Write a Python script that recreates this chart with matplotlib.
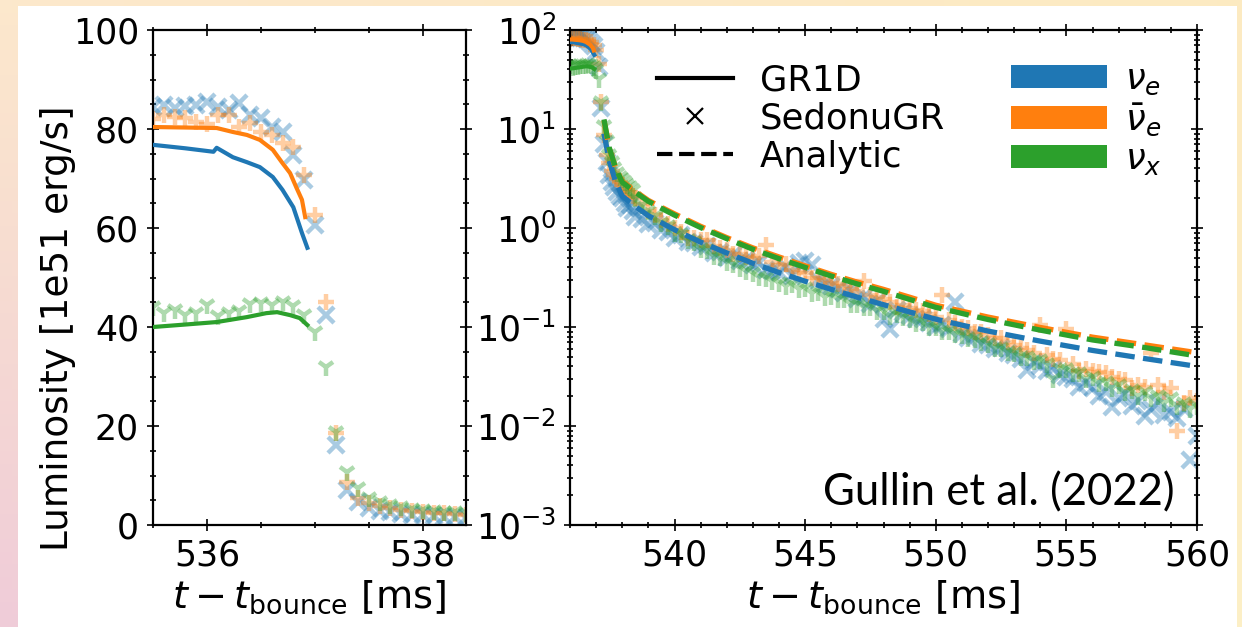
import numpy as np
import matplotlib
matplotlib.use("Agg")
import matplotlib.pyplot as plt
from matplotlib.lines import Line2D
from matplotlib.patches import Patch, Rectangle
from matplotlib.ticker import MultipleLocator, LogLocator, NullFormatter

# ---------------- data ----------------
# GR1D (solid lines), until black-hole formation
gr_t_e = [535.5, 535.8, 536.06, 536.09, 536.24, 536.37, 536.49, 536.61, 536.70, 536.80, 536.88, 536.93]
gr_L_e = [76.8, 76.1, 75.4, 76.2, 74.3, 73.3, 72.3, 70.3, 67.7, 64.2, 59.0, 56.0]
gr_t_a = [535.5, 535.8, 536.09, 536.24, 536.37, 536.49, 536.61, 536.70, 536.77, 536.83, 536.88, 536.91]
gr_L_a = [80.4, 80.3, 80.2, 79.4, 78.8, 77.8, 75.8, 73.1, 71.1, 68.1, 65.7, 62.2]
gr_t_x = [535.5, 535.8, 536.09, 536.37, 536.55, 536.65, 536.77, 536.86, 536.93]
gr_L_x = [40.0, 40.5, 41.0, 42.0, 42.8, 43.0, 42.4, 41.8, 40.4]

# SedonuGR (markers)
sed_t = [535.5, 535.6, 535.7, 535.8, 535.9, 536.0, 536.1, 536.2, 536.3, 536.4,
         536.5, 536.6, 536.7, 536.8, 536.9, 537.0, 537.1, 537.2, 537.3, 537.4,
         537.5, 537.6, 537.7, 537.8, 537.9, 538.0, 538.1, 538.2, 538.3, 538.4,
         538.5, 538.75,
         539.0, 539.25, 539.5, 539.75, 540.0, 540.25, 540.5, 540.75,
         541.0, 541.25, 541.5, 541.75, 542.0, 542.25, 542.5, 542.75,
         543.0, 543.25, 543.5, 543.75, 544.0, 544.25, 544.5, 544.75,
         545.0, 545.25, 545.5, 545.75, 546.0, 546.25, 546.5, 546.75,
         547.0, 547.25, 547.5, 547.75, 548.0, 548.25, 548.5, 548.75,
         549.0, 549.25, 549.5, 549.75, 550.0, 550.25, 550.5, 550.75,
         551.0, 551.25, 551.5, 551.75, 552.0, 552.25, 552.5, 552.75,
         553.0, 553.25, 553.5, 553.75, 554.0, 554.25, 554.5, 554.75,
         555.0, 555.25, 555.5, 555.75, 556.0, 556.25, 556.5, 556.75,
         557.0, 557.25, 557.5, 557.75, 558.0, 558.25, 558.5, 558.75,
         559.0, 559.25, 559.5, 559.75, 560.0]
sed_L_e = [84.5, 84.8, 84.2, 84.6, 84.8, 85.5, 84.4, 83.8, 85.2, 82.8,
           82.2, 80.4, 79.4, 74.7, 69.7, 60.6, 42.4, 16.2, 7.1, 4.6,
           3.4, 2.9, 2.6, 2.3, 2.1, 2.0, 1.8, 1.6, 1.7, 1.5,
           1.30, 1.22,
           1.10, 1.12, 0.95, 0.92, 0.80, 0.84, 0.72, 0.70,
           0.64, 0.66, 0.56, 0.57, 0.50, 0.53, 0.46, 0.47,
           0.42, 0.44, 0.38, 0.37, 0.36, 0.40, 0.33, 0.44,
           0.46, 0.42, 0.30, 0.27, 0.26, 0.24, 0.22, 0.23,
           0.19, 0.20, 0.17, 0.18, 0.12, 0.095, 0.15, 0.14,
           0.13, 0.12, 0.12, 0.11, 0.10, 0.105, 0.095, 0.18,
           0.085, 0.078, 0.080, 0.068, 0.066, 0.060, 0.062, 0.055,
           0.052, 0.047, 0.037, 0.044, 0.040, 0.036, 0.038, 0.033,
           0.031, 0.030, 0.025, 0.027, 0.024, 0.020, 0.022, 0.0155,
           0.019, 0.021, 0.016, 0.018, 0.0125, 0.015, 0.017, 0.013,
           0.014, 0.012, 0.015, 0.0045, 0.008]
sed_L_a = [82.0, 82.8, 82.4, 82.2, 81.4, 81.0, 82.8, 82.8, 80.4, 81.2,
           79.4, 78.8, 77.2, 76.4, 70.7, 62.6, 45.0, 18.6, 8.7, 5.5,
           4.5, 3.8, 3.4, 3.1, 2.9, 2.7, 2.5, 2.4, 2.3, 2.1,
           2.0, 1.75,
           1.5, 1.35, 1.2, 1.1, 1.0, 0.92, 0.80, 0.80,
           0.76, 0.75, 0.66, 0.63, 0.60, 0.55, 0.54, 0.51,
           0.50, 0.52, 0.68, 0.45, 0.42, 0.43, 0.38, 0.36,
           0.35, 0.31, 0.31, 0.30, 0.28, 0.27, 0.26, 0.24,
           0.23, 0.29, 0.21, 0.20, 0.19, 0.18, 0.16, 0.165,
           0.155, 0.15, 0.145, 0.135, 0.125, 0.21, 0.118, 0.11,
           0.10, 0.098, 0.088, 0.088, 0.083, 0.078, 0.078, 0.070,
           0.066, 0.062, 0.058, 0.055, 0.105, 0.052, 0.048, 0.046,
           0.095, 0.042, 0.036, 0.038, 0.036, 0.035, 0.034, 0.031,
           0.030, 0.029, 0.024, 0.026, 0.025, 0.055, 0.026, 0.022,
           0.024, 0.0088, 0.017, 0.019, 0.018]
sed_L_x = [44.0, 42.8, 43.5, 42.5, 42.8, 44.5, 42.3, 42.8, 43.2, 44.6,
           44.8, 44.5, 45.0, 44.2, 42.5, 39.0, 32.0, 18.8, 10.7, 7.5,
           5.5, 4.6, 4.0, 3.6, 3.3, 3.1, 2.9, 2.7, 2.6, 2.4,
           2.0, 1.7,
           1.5, 1.32, 1.12, 1.04, 0.90, 0.86, 0.75, 0.72,
           0.62, 0.60, 0.52, 0.51, 0.45, 0.43, 0.39, 0.37,
           0.35, 0.32, 0.31, 0.29, 0.28, 0.26, 0.27, 0.24,
           0.245, 0.22, 0.225, 0.20, 0.205, 0.19, 0.19, 0.17,
           0.17, 0.16, 0.16, 0.145, 0.145, 0.13, 0.135, 0.125,
           0.12, 0.11, 0.112, 0.10, 0.10, 0.092, 0.091, 0.084,
           0.083, 0.077, 0.076, 0.070, 0.068, 0.062, 0.062, 0.056,
           0.055, 0.050, 0.050, 0.045, 0.046, 0.042, 0.030, 0.038,
           0.038, 0.034, 0.034, 0.030, 0.031, 0.027, 0.028, 0.024,
           0.026, 0.022, 0.023, 0.020, 0.022, 0.019, 0.020, 0.017,
           0.019, 0.016, 0.017, 0.015, 0.016]

# Analytic (dashed)
an_t = [537.3, 537.5, 537.75, 538.0, 538.5, 539.0, 539.5, 540.0, 541.0, 542.0, 543.0, 544.0,
        545.0, 546.0, 547.0, 548.0, 549.0, 550.0, 552.0, 554.0, 556.0, 558.0, 560.0]
an_L_e = [9.0, 4.8, 2.9, 2.1, 1.65, 1.33, 1.13, 0.96, 0.72, 0.56, 0.44, 0.355,
          0.29, 0.24, 0.20, 0.168, 0.142, 0.120, 0.091, 0.072, 0.058, 0.048, 0.040]
an_L_a = [12.2, 6.4, 4.0, 2.95, 2.35, 1.9, 1.62, 1.39, 1.04, 0.80, 0.63, 0.51,
          0.415, 0.34, 0.284, 0.24, 0.20, 0.166, 0.126, 0.099, 0.079, 0.066, 0.055]
an_L_x = [12.5, 6.5, 4.0, 2.9, 2.3, 1.86, 1.58, 1.35, 1.01, 0.78, 0.61, 0.49,
          0.40, 0.327, 0.272, 0.229, 0.19, 0.158, 0.119, 0.093, 0.074, 0.062, 0.051]

species = [r"$\nu_e$", r"$\bar{\nu}_e$", r"$\nu_x$"]
colors = ["#1f77b4", "#ff7f0e", "#2ca02c"]
markers = ["x", "+", "1"]
msizes = [11, 11, 13]

# ---------------- figure ----------------
W, H = 1242, 627
fig = plt.figure(figsize=(W / 100, H / 100), dpi=100)

# slide background gradient + white card
bg = fig.add_axes([0, 0, 1, 1], zorder=-10)
tl = np.array([0.99, 0.91, 0.80]); bl = np.array([0.94, 0.80, 0.85])
tr = np.array([0.99, 0.92, 0.76]); br = np.array([0.99, 0.94, 0.78])
yy, xx = np.mgrid[0:1:50j, 0:1:100j]
img = ((1 - xx)[..., None] * ((1 - yy)[..., None] * tl + yy[..., None] * bl)
       + xx[..., None] * ((1 - yy)[..., None] * tr + yy[..., None] * br))
bg.imshow(img, extent=[0, 1, 0, 1], aspect="auto", origin="upper")
bg.add_patch(Rectangle((18 / W, 0), (1237 - 18) / W, (H - 6) / H, facecolor="white",
                       edgecolor="none", transform=bg.transAxes))
bg.set_xlim(0, 1); bg.set_ylim(0, 1)
bg.axis("off")

ax1 = fig.add_axes([153 / W, (H - 525) / H, 313 / W, 495 / H])
ax2 = fig.add_axes([570 / W, (H - 525) / H, 627 / W, 495 / H])

gr_t = [gr_t_e, gr_t_a, gr_t_x]
gr_L = [gr_L_e, gr_L_a, gr_L_x]
sed_L = [sed_L_e, sed_L_a, sed_L_x]
an_L = [an_L_e, an_L_a, an_L_x]

for ax in (ax1, ax2):
    for i in range(3):
        ax.plot(sed_t, sed_L[i], linestyle="none", marker=markers[i], ms=msizes[i], mew=3.2,
                color=colors[i], alpha=0.38, zorder=2)
    for i in range(3):
        ax.plot(gr_t[i], gr_L[i], color=colors[i], lw=3.0, zorder=3)

for i in range(3):
    ax2.plot(an_t, an_L[i], color=colors[i], lw=3.8, ls="--", zorder=4)

ax1.set_xlim(535.5, 538.4)
ax1.set_ylim(0, 100)
ax1.xaxis.set_major_locator(MultipleLocator(2))
ax1.xaxis.set_minor_locator(MultipleLocator(0.5))
ax1.yaxis.set_major_locator(MultipleLocator(20))
ax1.yaxis.set_minor_locator(MultipleLocator(5))

ax2.set_yscale("log")
ax2.set_xlim(536, 560)
ax2.set_ylim(1e-3, 1e2)
ax2.xaxis.set_major_locator(MultipleLocator(5))
ax2.xaxis.set_minor_locator(MultipleLocator(1))
ax2.yaxis.set_major_locator(LogLocator(base=10, numticks=10))
ax2.yaxis.set_minor_locator(LogLocator(base=10, subs=np.arange(2, 10), numticks=20))
ax2.yaxis.set_minor_formatter(NullFormatter())

for ax in (ax1, ax2):
    ax.tick_params(which="both", direction="inout", top=True, right=True,
                   labelsize=25, width=1.2, pad=6)
    ax.tick_params(which="major", length=8)
    ax.tick_params(which="minor", length=4)
    for s in ax.spines.values():
        s.set_linewidth(1.6)
    ax.set_xlabel(r"$t - t_{\mathrm{bounce}}$ [ms]", fontsize=27.5, labelpad=4)

ax1.set_ylabel("Luminosity [1e51 erg/s]", fontsize=27)
ax1.yaxis.set_label_coords(-0.245, 0.397)

# legends
h1 = [Line2D([], [], color="black", lw=3),
      Line2D([], [], color="black", ls="none", marker="x", ms=11, mew=1.6),
      Line2D([], [], color="black", lw=3, ls="--")]
leg1 = ax2.legend(h1, ["GR1D", "SedonuGR", "Analytic"], loc="upper left",
                  bbox_to_anchor=(0.139, 0.933), frameon=False, fontsize=25.5,
                  handlelength=2.15, handletextpad=0.75, labelspacing=0.12,
                  borderpad=0, borderaxespad=0)
ax2.add_artist(leg1)
h2 = [Patch(facecolor=c, edgecolor="none") for c in colors]
leg2 = ax2.legend(h2, species, loc="upper left", bbox_to_anchor=(0.704, 0.935),
                  frameon=False, fontsize=25.5, handlelength=2.7,
                  handleheight=0.62, handletextpad=0.5, labelspacing=0.12,
                  borderpad=0, borderaxespad=0)

ax2.text(0.965, 0.040, "Gullin et al. (2022)", transform=ax2.transAxes,
         ha="right", va="baseline", fontsize=31.5, family="Lato")

fig.savefig("out.png", dpi=100)
